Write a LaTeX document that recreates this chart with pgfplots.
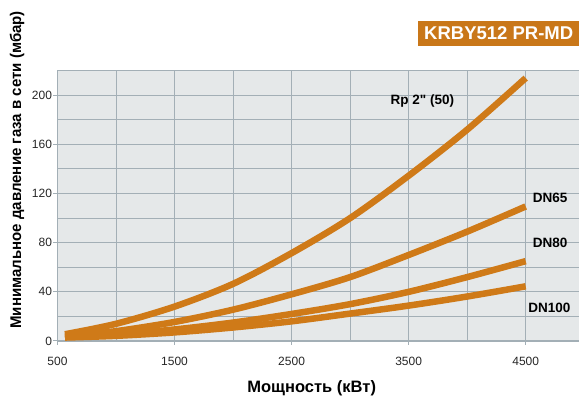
\documentclass[border=0pt]{standalone}
\usepackage{fontspec}
\setmainfont{Liberation Sans}[Ligatures=TeXOff]
\usepackage{pgfplots}
\pgfplotsset{compat=1.18}
\definecolor{curve}{HTML}{CF7A18}
\definecolor{titlec}{HTML}{C97719}
\definecolor{bg}{HTML}{E5E8E9}
\definecolor{gridc}{HTML}{A3AFB6}
\begin{document}
\begin{tikzpicture}[x=1pt,y=1pt]
\useasboundingbox (0,0) rectangle (579,398);
\clip (0,0) rectangle (579,398);
\fill[titlec] (418,352) rectangle (590,377);
\node[anchor=base west, text=white, font=\bfseries\fontsize{18.5}{20}\selectfont, inner sep=0pt] at (424,358) {KRBY512 PR-MD};
\begin{axis}[
  at={(57.5pt,57pt)}, anchor=south west,
  scale only axis, width=526.7pt, height=270.3pt,
  xmin=500, xmax=5000, ymin=0, ymax=220,
  axis background/.style={fill=bg},
  xtick={500,1500,2500,3500,4500},
  minor xtick={1000,2000,3000,4000,5000},
  ytick={0,40,...,200},
  minor ytick={20,60,...,220},
  grid=both,
  major grid style={gridc, line width=1pt},
  minor grid style={gridc, line width=1pt},
  axis line style={gridc, line width=1.6pt},
  tick style={gridc, line width=1pt},
  tick align=outside,
  tick pos=left,
  major tick length=4pt,
  minor tick length=0pt,
  tick label style={font=\fontsize{12}{14}\selectfont, text=black!85},
  /pgf/number format/assume math mode=true,
  /pgf/number format/1000 sep={},
  xticklabel style={yshift=-9pt},
  yticklabel style={xshift=2pt},
  xlabel={Мощность (кВт)},
  ylabel={Минимальное давление газа в сети (мбар)},
  xlabel style={font=\bfseries\fontsize{16.5}{18}\selectfont, at={(axis description cs:0.4826,-0.174)}, anchor=center},
  ylabel style={font=\bfseries\fontsize{15.5}{18}\selectfont, at={(axis description cs:-0.0769,0.633)}, anchor=center, xscale=0.97},
]
\addplot[curve, line width=6.5pt, smooth, line cap=butt] coordinates {
(564,5.5) (1000,14) (1500,28) (2000,46.5) (2500,71.5) (3000,100) (3500,134.5) (4000,172) (4500,214)};
\addplot[curve, line width=6.5pt, smooth, line cap=butt] coordinates {
(564,3.5) (1000,8) (1500,15.5) (2000,25.5) (2500,38) (3000,52) (3500,70) (4000,89) (4500,109.5)};
\addplot[curve, line width=6.5pt, smooth, line cap=butt] coordinates {
(564,3.2) (1000,5.3) (1500,9.4) (2000,15) (2500,22) (3000,30) (3500,40) (4000,52) (4500,65)};
\addplot[curve, line width=6.5pt, smooth, line cap=butt] coordinates {
(564,2.8) (1000,4.2) (1500,7) (2000,11) (2500,16) (3000,22.3) (3500,28.8) (4000,36.2) (4500,44.5)};
\node[font=\bfseries\fontsize{13.5}{15}\selectfont] at (axis cs:3618,195.3) {Rp 2" (50)};
\node[font=\bfseries\fontsize{13.5}{15}\selectfont] at (axis cs:4708,116.4) {DN65};
\node[font=\bfseries\fontsize{13.5}{15}\selectfont] at (axis cs:4708,79.8) {DN80};
\node[font=\bfseries\fontsize{13.5}{15}\selectfont] at (axis cs:4703,27.1) {DN100};
\end{axis}
\end{tikzpicture}
\end{document}
